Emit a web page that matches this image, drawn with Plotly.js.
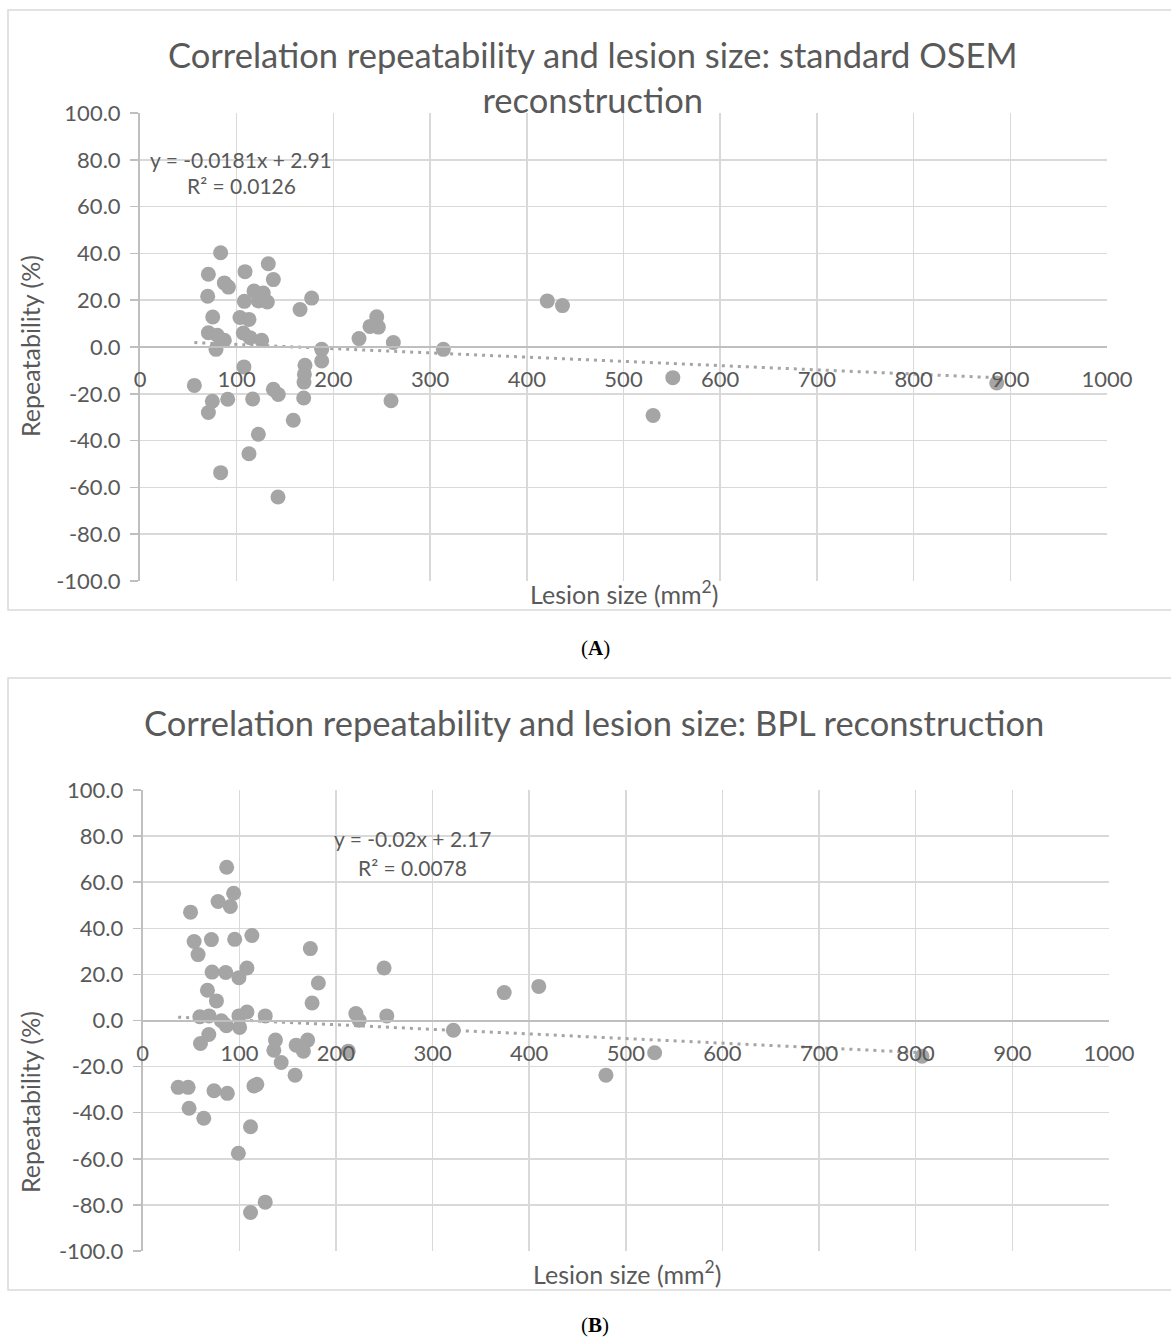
<!DOCTYPE html>
<html><head><meta charset="utf-8">
<script src="https://cdn.plot.ly/plotly-3.0.1.min.js"></script>
<style>html,body{margin:0;padding:0;background:#fff;} #chart{width:1171px;height:1338px;}</style>
</head><body><div id="chart"></div>
<script>
// ---- Data: chart A (standard OSEM) ----
const sizeA = [83.4,70.7,132.7,108.6,137.9,87.2,91.5,70,117.9,127.5,122.4,131.7,107.9,177.5,165.5,75.2,103.4,112.7,244.8,237.8,246.5,226.5,262,70.7,79.9,87.2,106.8,113.8,125.8,78.6,187.9,187.9,107.5,170.6,170,169.6,56.2,137.9,143,169.3,90.7,116.5,74.8,259.6,70.7,158.5,122.4,112.7,83.4,142.7,421.2,436.9,313.7,551,530.6,886];
const repA  = [40.3,31.1,35.6,32.2,28.8,27.4,25.6,21.7,23.9,23.1,19.7,19.2,19.5,20.9,16,12.8,12.6,11.8,12.9,8.8,8.5,3.6,1.9,6.1,5.0,2.9,6.0,4.0,2.9,-1.0,-1.0,-6.0,-8.5,-7.8,-11.7,-15,-16.4,-18.1,-20.3,-21.8,-22.3,-22.2,-23.2,-23,-28,-31.3,-37.3,-45.6,-53.7,-64.1,19.7,17.7,-1.0,-13.1,-29.3,-15.4];

// ---- Data: chart B (BPL) ----
const sizeB = [86.9,94.1,78,90.7,49.5,53.2,71.1,95.2,113,57.3,173.5,71.8,85.9,107.9,99.6,249.8,181.8,67,76.3,175.3,59.1,68.7,81.4,86.6,99.6,107.9,100.3,126.8,220.6,224,252.6,68.4,59.8,137.4,135.7,170.7,158.8,166.3,212.7,143.3,157.7,36.7,47,73.8,87.6,115.1,118.1,48,63.2,111.6,99,126.8,111.6,374.1,409.9,321.5,479.4,529.8,806.5];
const repB  = [66.5,55.2,51.6,49.5,47,34.3,35.1,35.2,36.9,28.6,31.2,21,20.8,22.8,18.6,22.8,16.3,13.1,8.5,7.6,1.6,2.0,-0.1,-2.3,2.0,3.7,-3.0,2.0,3.0,0.1,2.0,-6.1,-10,-8.5,-12.9,-8.5,-10.7,-13.3,-13.3,-18.2,-23.7,-29,-29,-30.5,-31.6,-28.4,-27.7,-38.1,-42.4,-46.1,-57.6,-78.8,-83.3,12.1,14.8,-4.2,-23.7,-14,-15.5];

// ---- Linear trendlines (as printed on the charts) ----
const trendA = {slope: -0.0181, intercept: 2.91, label: "y = -0.0181x + 2.91", r2: "R² = 0.0126"};
const trendB = {slope: -0.02, intercept: 2.17, label: "y = -0.02x + 2.17", r2: "R² = 0.0078"};

// ---- Ticks ----
const xTicks = [0,100,200,300,400,500,600,700,800,900,1000];
const yTicks = [-100,-80,-60,-40,-20,0,20,40,60,80,100];
const yTickText = yTicks.map(v => v.toFixed(1));

// ---- Text ----
const titleA = "Correlation repeatability and lesion size: standard OSEM<br>reconstruction";
const titleB = "Correlation repeatability and lesion size: BPL reconstruction";
const xTitle = "Lesion size (mm<sup>2</sup>)";
const yTitle = "Repeatability (%)";
const panelA = "(<b>A</b>)";
const panelB = "(<b>B</b>)";
const xRange = [0, 1000];
const yRange = [-100, 100];

// ---- Layout helpers (pixel -> paper) ----
const W = 1171, H = 1338;
const px = x => x / W;
const py = y => 1 - y / H;

const FONT = "Lato, 'Open Sans', sans-serif";
const TXT = "#595959";
const GRID = "#d9d9d9";
const AX = "#bfbfbf";
const MK = "#a5a5a5";

function trendTrace(xs, t, xa, ya) {
  const x0 = Math.min(...xs), x1 = Math.max(...xs);
  return {x: [x0, x1], y: [t.slope * x0 + t.intercept, t.slope * x1 + t.intercept],
    xaxis: xa, yaxis: ya, mode: "lines", hoverinfo: "skip",
    line: {color: MK, width: 3, dash: "3px,5px"}};
}
function pts(xs, ys, xa, ya) {
  return {x: xs, y: ys, xaxis: xa, yaxis: ya, mode: "markers", type: "scatter",
    marker: {size: 15, color: MK}};
}

const data = [
  trendTrace(sizeA, trendA, "x", "y"),
  pts(sizeA, repA, "x", "y"),
  trendTrace(sizeB, trendB, "x2", "y2"),
  pts(sizeB, repB, "x2", "y2")
];

function xaxis(dom, pos) {
  return {domain: dom, range: xRange, tickmode: "array", tickvals: xTicks,
    ticktext: xTicks.map(String), anchor: "free", position: pos,
    showgrid: true, gridcolor: GRID, gridwidth: 1.5, zeroline: false,
    showline: true, linecolor: AX, linewidth: 2, ticks: "",
    ticklabelstandoff: 13,
    tickfont: {family: FONT, size: 22, color: TXT}, fixedrange: true};
}
function yaxis(dom, anchor) {
  return {domain: dom, range: yRange, tickmode: "array", tickvals: yTicks, ticktext: yTickText,
    anchor: anchor, showgrid: true, gridcolor: GRID, gridwidth: 1.5,
    zeroline: false, showline: true, linecolor: AX, linewidth: 2,
    ticks: "outside", ticklen: 8, tickcolor: AX, tickwidth: 1.5,
    ticklabelstandoff: 5,
    tickfont: {family: FONT, size: 22, color: TXT}, fixedrange: true};
}

const layout = {
  width: W, height: H, margin: {l: 0, r: 0, t: 0, b: 0},
  paper_bgcolor: "#fff", plot_bgcolor: "rgba(0,0,0,0)", showlegend: false,
  xaxis: xaxis([px(140), px(1107)], py(347)),
  yaxis: yaxis([py(581), py(113)], "x"),
  xaxis2: xaxis([px(142.7), px(1109)], py(1020.5)),
  yaxis2: yaxis([py(1251), py(790)], "x2"),
  shapes: [
    {type: "rect", xref: "paper", yref: "paper", x0: px(8), x1: px(1180), y0: py(610), y1: py(10),
     line: {color: GRID, width: 1.5}, layer: "below"},
    {type: "rect", xref: "paper", yref: "paper", x0: px(8), x1: px(1180), y0: py(1290), y1: py(678),
     line: {color: GRID, width: 1.5}, layer: "below"}
  ],
  annotations: [
    {text: titleA, xref: "paper", yref: "paper", x: px(593), y: py(77), xanchor: "center", yanchor: "middle",
     showarrow: false, font: {family: FONT, size: 34.5, color: TXT}},
    {text: titleB, xref: "paper", yref: "paper", x: px(594), y: py(722), xanchor: "center", yanchor: "middle",
     showarrow: false, font: {family: FONT, size: 34.5, color: TXT}},
    {text: xTitle, xref: "paper", yref: "paper", x: px(624), y: py(592), xanchor: "center", yanchor: "middle",
     showarrow: false, font: {family: FONT, size: 25, color: TXT}},
    {text: xTitle, xref: "paper", yref: "paper", x: px(627), y: py(1272), xanchor: "center", yanchor: "middle",
     showarrow: false, font: {family: FONT, size: 25, color: TXT}},
    {text: yTitle, xref: "paper", yref: "paper", x: px(30), y: py(346), xanchor: "center", yanchor: "middle",
     textangle: -90, showarrow: false, font: {family: FONT, size: 25, color: TXT}},
    {text: yTitle, xref: "paper", yref: "paper", x: px(30), y: py(1102), xanchor: "center", yanchor: "middle",
     textangle: -90, showarrow: false, font: {family: FONT, size: 25, color: TXT}},
    {text: trendA.label, xref: "paper", yref: "paper", x: px(241), y: py(159), xanchor: "center", yanchor: "middle",
     showarrow: false, font: {family: FONT, size: 21, color: TXT}},
    {text: trendA.r2, xref: "paper", yref: "paper", x: px(241), y: py(186), xanchor: "center", yanchor: "middle",
     showarrow: false, font: {family: FONT, size: 21, color: TXT}},
    {text: trendB.label, xref: "paper", yref: "paper", x: px(412), y: py(838), xanchor: "center", yanchor: "middle",
     showarrow: false, font: {family: FONT, size: 21, color: TXT}},
    {text: trendB.r2, xref: "paper", yref: "paper", x: px(412), y: py(867), xanchor: "center", yanchor: "middle",
     showarrow: false, font: {family: FONT, size: 21, color: TXT}},
    {text: panelA, xref: "paper", yref: "paper", x: px(595), y: py(648), xanchor: "center", yanchor: "middle",
     showarrow: false, font: {family: "Liberation Serif, serif", size: 21, color: "#000"}},
    {text: panelB, xref: "paper", yref: "paper", x: px(595), y: py(1325), xanchor: "center", yanchor: "middle",
     showarrow: false, font: {family: "Liberation Serif, serif", size: 21, color: "#000"}}
  ]
};

Plotly.newPlot("chart", data, layout, {displayModeBar: false, staticPlot: true});
</script>
</body></html>
